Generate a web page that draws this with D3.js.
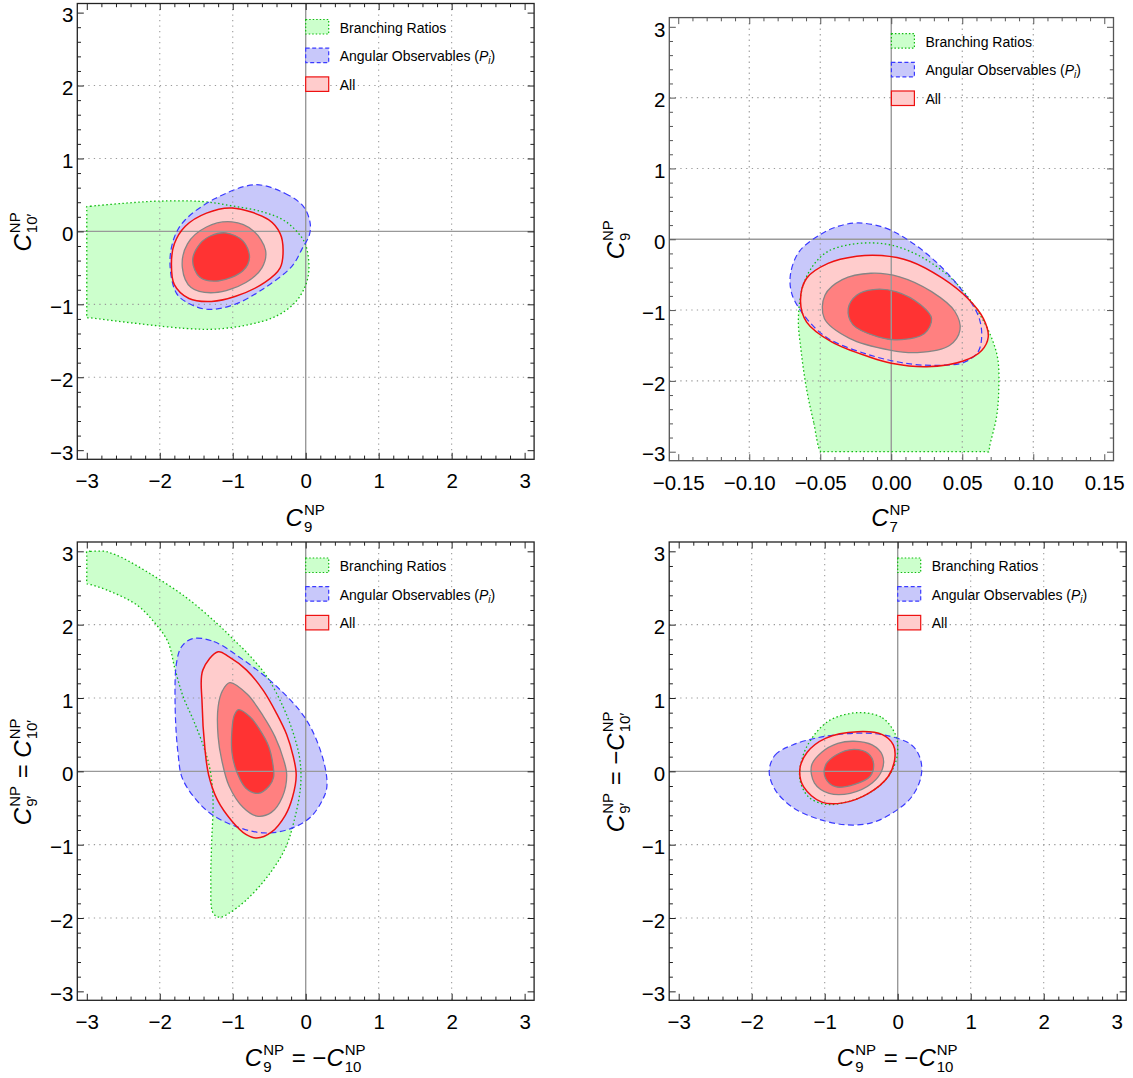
<!DOCTYPE html>
<html><head><meta charset="utf-8">
<script src="https://cdn.jsdelivr.net/npm/d3@7"></script>
<style>
body{margin:0;background:#fff}
svg{display:block}
text{font-family:"Liberation Sans",Arial,Helvetica,sans-serif;fill:#000}
</style></head>
<body><svg id="chart" width="1133" height="1078"></svg>
<script>
// ---------------- data ----------------
const legendLabels = ["Branching Ratios", "Angular Observables", "All"];
const ticksC = [-3, -2, -1, 0, 1, 2, 3];
const ticksC7 = [-0.15, -0.10, -0.05, 0, 0.05, 0.10, 0.15];
const gridC = [-2, -1, 1, 2];
const gridC7 = [-0.10, -0.05, 0.05, 0.10];

// Panel 1: C9 vs C10'
const p1Branching = [[-3,0.34],[-2.95,0.345],[-2.5,0.385],[-2.02,0.415],[-1.42,0.41],[-1.01,0.35],[-0.6,0.27],[-0.28,0.14],[-0.05,-0.09],[0.01,-0.22],[0.04,-0.39],[0.04,-0.57],[-0.01,-0.76],[-0.15,-0.98],[-0.42,-1.17],[-0.79,-1.28],[-1.24,-1.34],[-1.65,-1.33],[-2.25,-1.27],[-2.95,-1.185],[-3,-1.18],[-3,-1.13],[-3,-0.6],[-3,0.0],[-3,0.29]];
const p1Angular = [[-0.69,0.64],[-0.28,0.52],[-0.03,0.34],[0.06,0.12],[0.05,-0.05],[-0.05,-0.24],[-0.19,-0.48],[-0.6,-0.8],[-0.97,-1.0],[-1.33,-1.07],[-1.58,-1.0],[-1.77,-0.85],[-1.86,-0.44],[-1.8,-0.08],[-1.65,0.16],[-1.24,0.45]];
const p1AllOuter = [[-1.01,0.32],[-0.51,0.16],[-0.35,-0.03],[-0.31,-0.25],[-0.35,-0.5],[-0.56,-0.7],[-0.96,-0.89],[-1.29,-0.96],[-1.6,-0.92],[-1.8,-0.73],[-1.84,-0.44],[-1.8,-0.17],[-1.65,0.07],[-1.36,0.25]];
const p1AllMid = [[-1.01,0.13],[-0.72,0.01],[-0.55,-0.26],[-0.6,-0.5],[-0.82,-0.7],[-1.25,-0.84],[-1.57,-0.77],[-1.69,-0.5],[-1.62,-0.17],[-1.36,0.06]];
const p1AllInner = [[-1.1,-0.02],[-0.86,-0.13],[-0.77,-0.36],[-0.86,-0.54],[-1.2,-0.68],[-1.45,-0.63],[-1.55,-0.4],[-1.45,-0.17],[-1.3,-0.06]];

// Panel 2: C7 vs C9
const p2Branching = [[-0.0496,-3.0],[-0.0546,-2.59],[-0.0596,-2.12],[-0.0634,-1.59],[-0.0654,-1.12],[-0.062,-0.645],[-0.0546,-0.36],[-0.0445,-0.17],[-0.0294,-0.076],[-0.0131,-0.052],[0.0008,-0.085],[0.0159,-0.195],[0.0284,-0.337],[0.041,-0.527],[0.051,-0.74],[0.0611,-1.02],[0.07,-1.36],[0.075,-1.69],[0.0757,-2.12],[0.0742,-2.5],[0.0692,-2.93],[0.0687,-3.0],[0.066,-3.0],[0.04,-3.0],[0.01,-3.0],[-0.02,-3.0],[-0.047,-3.0]];
const p2Angular = [[-0.0232,0.23],[-0.0043,0.16],[0.0133,-0.03],[0.031,-0.31],[0.0486,-0.69],[0.0611,-1.07],[0.0637,-1.36],[0.0611,-1.59],[0.0511,-1.74],[0.0335,-1.78],[0.0133,-1.76],[-0.0143,-1.64],[-0.0445,-1.4],[-0.0596,-1.12],[-0.0697,-0.79],[-0.071,-0.5],[-0.0647,-0.17],[-0.0496,0.07],[-0.037,0.185]];
const p2AllOuter = [[-0.0068,-0.23],[0.0133,-0.31],[0.036,-0.55],[0.0536,-0.83],[0.0649,-1.12],[0.0683,-1.38],[0.0637,-1.57],[0.0507,-1.72],[0.0249,-1.8],[0.0,-1.75],[-0.0143,-1.67],[-0.042,-1.45],[-0.0596,-1.17],[-0.0639,-0.88],[-0.0596,-0.55],[-0.0445,-0.34],[-0.0244,-0.24]];
const p2AllMid = [[-0.0143,-0.48],[0.0058,-0.53],[0.0284,-0.74],[0.0448,-1.02],[0.0484,-1.28],[0.041,-1.5],[0.0184,-1.6],[-0.001,-1.565],[-0.0294,-1.4],[-0.0471,-1.12],[-0.0467,-0.79],[-0.0345,-0.57]];
const p2AllInner = [[-0.0127,-0.71],[0.0033,-0.74],[0.0209,-0.93],[0.0284,-1.12],[0.0234,-1.33],[0.0038,-1.42],[-0.0093,-1.38],[-0.0269,-1.21],[-0.0303,-0.98],[-0.0244,-0.79]];

// Panel 3: C9 = -C10 vs C9' = C10'
const p3Branching = [[-3,3.0],[-2.95,3.0],[-2.75,3.0],[-2.68,2.98],[-2.53,2.92],[-2.14,2.7],[-1.65,2.38],[-1.22,2.02],[-0.96,1.77],[-0.76,1.57],[-0.53,1.29],[-0.31,0.88],[-0.17,0.52],[-0.08,0.16],[-0.07,-0.2],[-0.16,-0.68],[-0.28,-1.05],[-0.52,-1.43],[-0.82,-1.76],[-1.06,-1.94],[-1.18,-1.99],[-1.27,-1.93],[-1.3,-1.5],[-1.29,-1.0],[-1.27,-0.39],[-1.31,0.02],[-1.4,0.34],[-1.54,0.7],[-1.68,1.02],[-1.79,1.39],[-1.89,1.77],[-2.09,2.05],[-2.33,2.28],[-2.72,2.47],[-2.96,2.55],[-3,2.56],[-3,2.62],[-3,2.8],[-3,2.95]];
const p3Angular = [[-1.55,1.81],[-1.26,1.77],[-0.87,1.53],[-0.4,1.16],[0.01,0.7],[0.24,0.16],[0.29,-0.21],[0.23,-0.39],[0.06,-0.63],[-0.23,-0.79],[-0.57,-0.84],[-0.96,-0.75],[-1.35,-0.54],[-1.68,-0.12],[-1.75,0.25],[-1.79,0.93],[-1.77,1.48],[-1.7,1.7]];
const p3AllOuter = [[-1.2,1.63],[-1.05,1.56],[-0.81,1.38],[-0.58,1.1],[-0.4,0.79],[-0.26,0.5],[-0.17,0.2],[-0.13,-0.05],[-0.18,-0.35],[-0.28,-0.6],[-0.47,-0.83],[-0.67,-0.91],[-0.82,-0.86],[-1.01,-0.68],[-1.21,-0.39],[-1.33,-0.05],[-1.38,0.3],[-1.42,0.93],[-1.41,1.38]];
const p3AllMid = [[-1.04,1.21],[-0.8,1.05],[-0.58,0.75],[-0.42,0.47],[-0.3,0.15],[-0.26,-0.05],[-0.32,-0.35],[-0.47,-0.56],[-0.67,-0.61],[-0.86,-0.49],[-1.05,-0.2],[-1.15,0.15],[-1.2,0.47],[-1.2,0.88],[-1.14,1.1]];
const p3AllInner = [[-0.92,0.84],[-0.76,0.74],[-0.63,0.57],[-0.51,0.35],[-0.45,0.1],[-0.44,-0.08],[-0.5,-0.2],[-0.65,-0.3],[-0.82,-0.23],[-0.94,-0.02],[-1.01,0.25],[-1.01,0.57],[-0.98,0.76]];

// Panel 4: C9 = -C10 vs C9' = -C10'
const p4Branching = [[-0.55,0.8],[-0.21,0.73],[-0.03,0.5],[0,0.31],[-0.03,0.12],[-0.16,-0.11],[-0.4,-0.3],[-0.7,-0.42],[-0.99,-0.45],[-1.22,-0.35],[-1.34,-0.11],[-1.31,0.17],[-1.19,0.43],[-0.94,0.69]];
const p4Angular = [[-1.76,0],[-1.68,0.22],[-1.44,0.36],[-1.04,0.47],[-0.55,0.52],[-0.16,0.49],[0.19,0.36],[0.31,0.17],[0.32,-0.07],[0.19,-0.35],[-0.06,-0.56],[-0.35,-0.7],[-0.7,-0.73],[-1.09,-0.65],[-1.44,-0.49],[-1.68,-0.25]];
const p4AllOuter = [[-0.55,0.54],[-0.21,0.5],[-0.06,0.36],[-0.04,0.17],[-0.13,-0.07],[-0.4,-0.3],[-0.75,-0.43],[-1.04,-0.42],[-1.29,-0.21],[-1.34,0.03],[-1.24,0.26],[-0.99,0.45]];
const p4AllMid = [[-0.6,0.41],[-0.35,0.36],[-0.21,0.22],[-0.21,0.03],[-0.35,-0.16],[-0.65,-0.3],[-0.94,-0.3],[-1.14,-0.16],[-1.18,0.08],[-1.04,0.26],[-0.82,0.38]];
const p4AllInner = [[-0.6,0.3],[-0.4,0.24],[-0.33,0.1],[-0.38,-0.07],[-0.6,-0.18],[-0.85,-0.21],[-0.99,-0.09],[-0.99,0.08],[-0.85,0.22]];

// ---------------- styles ----------------
const COL = {
  brFill:"#ccffcc", brStroke:"#11bb11",
  anFill:"#c8c8fa", anStroke:"#3a3aff",
  outFill:"#ffcccc", outStroke:"#ee1111",
  midFill:"#ff8080", inFill:"#ff3333", levStroke:"#858585",
  grid:"#9a9a9a", axis:"#999999"
};

const svg = d3.select("#chart");

const panels = [
  {id:1, box:{L:77.3,R:534.1,T:3.5,B:459.3}, xDom:[-3.13,3.13], yDom:[-3.125,3.125], xTicks:ticksC, xMinorStep:0.2, xGrid:gridC, xFmt:d3.format("d"),
   br:p1Branching, an:p1Angular, out:p1AllOuter, mid:p1AllMid, inn:p1AllInner, frame:"#222",
   xLab:[{t:"C",it:1},{sub:"9",sup:"NP"}], yLab:[{t:"C",it:1},{sub:"10′",sup:"NP"}], xLabY:526, yLabX:31},
  {id:2, box:{L:669.3,R:1113.5,T:17.6,B:460.7}, xDom:[-0.1563,0.1565], yDom:[-3.127,3.13], xTicks:ticksC7, xMinorStep:0.01, xGrid:gridC7, xFmt:d3.format(".2f"),
   br:p2Branching, an:p2Angular, out:p2AllOuter, mid:p2AllMid, inn:p2AllInner, frame:"#555",
   xLab:[{t:"C",it:1},{sub:"7",sup:"NP"}], yLab:[{t:"C",it:1},{sub:"9",sup:"NP"}], xLabY:526, yLabX:624},
  {id:3, box:{L:77.3,R:534.1,T:542,B:1000.3}, xDom:[-3.13,3.13], yDom:[-3.122,3.127], xTicks:ticksC, xMinorStep:0.2, xGrid:gridC, xFmt:d3.format("d"),
   br:p3Branching, an:p3Angular, out:p3AllOuter, mid:p3AllMid, inn:p3AllInner, frame:"#222",
   xLab:[{t:"C",it:1},{sub:"9",sup:"NP"},{t:" = −"},{t:"C",it:1},{sub:"10",sup:"NP"}],
   yLab:[{t:"C",it:1},{sub:"9′",sup:"NP"},{t:" = "},{t:"C",it:1},{sub:"10′",sup:"NP"}], xLabY:1066, yLabX:31},
  {id:4, box:{L:669.2,R:1126.2,T:542,B:1000.3}, xDom:[-3.13,3.13], yDom:[-3.122,3.127], xTicks:ticksC, xMinorStep:0.2, xGrid:gridC, xFmt:d3.format("d"),
   br:p4Branching, an:p4Angular, out:p4AllOuter, mid:p4AllMid, inn:p4AllInner, frame:"#222",
   xLab:[{t:"C",it:1},{sub:"9",sup:"NP"},{t:" = −"},{t:"C",it:1},{sub:"10",sup:"NP"}],
   yLab:[{t:"C",it:1},{sub:"9′",sup:"NP"},{t:" = −"},{t:"C",it:1},{sub:"10′",sup:"NP"}], xLabY:1066, yLabX:624}
];

function mathLabel(parent, parts){
  const g = parent.append("g");
  const big = 24, small = 15;
  let xpos = 0;
  parts.forEach(p=>{
    if(p.t !== undefined){
      const t = g.append("text").attr("x",xpos).attr("y",0)
        .style("font-size",big+"px").style("font-style",p.it?"italic":"normal")
        .attr("xml:space","preserve").text(p.t);
      xpos += t.node().getComputedTextLength();
    } else {
      let w = 0;
      if(p.sup){ const t=g.append("text").attr("x",xpos+1).attr("y",-11).style("font-size",small+"px").text(p.sup); w=Math.max(w,t.node().getComputedTextLength()); }
      if(p.sub){ const t=g.append("text").attr("x",xpos+1).attr("y",6).style("font-size",small+"px").text(p.sub); w=Math.max(w,t.node().getComputedTextLength()); }
      xpos += w + 2;
    }
  });
  g.selectAll("text").attr("x", function(){ return +this.getAttribute("x") - xpos/2; });
  return g;
}

function range(a,b,step){ const out=[]; const n=Math.round((b-a)/step); for(let i=0;i<=n;i++) out.push(+(a+i*step).toFixed(6)); return out; }

panels.forEach(cfg=>{
  const {L,R,T,B} = cfg.box;
  const x = d3.scaleLinear().domain(cfg.xDom).range([L,R]);
  const y = d3.scaleLinear().domain(cfg.yDom).range([B,T]);
  const g = svg.append("g");
  const clipId = "clip"+cfg.id;
  g.append("clipPath").attr("id",clipId).append("rect").attr("x",L).attr("y",T).attr("width",R-L).attr("height",B-T);
  const plot = g.append("g").attr("clip-path",`url(#${clipId})`);
  const line = d3.line().x(d=>x(d[0])).y(d=>y(d[1])).curve(d3.curveCatmullRomClosed.alpha(0.5));

  // fills
  plot.append("path").attr("d",line(cfg.br)).attr("fill",COL.brFill);
  plot.append("path").attr("d",line(cfg.an)).attr("fill",COL.anFill);
  plot.append("path").attr("d",line(cfg.out)).attr("fill",COL.outFill);

  // grid
  const yGrid = gridC;
  plot.selectAll(".gx").data(cfg.xGrid).enter().append("line")
    .attr("x1",d=>x(d)).attr("x2",d=>x(d)).attr("y1",T).attr("y2",B)
    .attr("stroke",COL.grid).attr("stroke-width",1.1).attr("stroke-dasharray","1.3,4.2");
  plot.selectAll(".gy").data(yGrid).enter().append("line")
    .attr("y1",d=>y(d)).attr("y2",d=>y(d)).attr("x1",L).attr("x2",R)
    .attr("stroke",COL.grid).attr("stroke-width",1.1).attr("stroke-dasharray","1.3,4.2");

  plot.append("path").attr("d",line(cfg.mid)).attr("fill",COL.midFill);
  plot.append("path").attr("d",line(cfg.inn)).attr("fill",COL.inFill);

  // axes lines
  plot.append("line").attr("x1",x(0)).attr("x2",x(0)).attr("y1",T).attr("y2",B).attr("stroke",COL.axis).attr("stroke-width",1.4);
  plot.append("line").attr("y1",y(0)).attr("y2",y(0)).attr("x1",L).attr("x2",R).attr("stroke",COL.axis).attr("stroke-width",1.4);

  // outlines
  plot.append("path").attr("d",line(cfg.br)).attr("fill","none").attr("stroke",COL.brStroke).attr("stroke-width",1.3).attr("stroke-dasharray","1.5,2.5");
  plot.append("path").attr("d",line(cfg.an)).attr("fill","none").attr("stroke",COL.anStroke).attr("stroke-width",1.2).attr("stroke-dasharray","6,3.5");
  plot.append("path").attr("d",line(cfg.out)).attr("fill","none").attr("stroke",COL.outStroke).attr("stroke-width",1.5);
  plot.append("path").attr("d",line(cfg.mid)).attr("fill","none").attr("stroke",COL.levStroke).attr("stroke-width",1.3);
  plot.append("path").attr("d",line(cfg.inn)).attr("fill","none").attr("stroke",COL.levStroke).attr("stroke-width",1.3);

  // frame ticks
  const xMinor = range(cfg.xTicks[0], cfg.xTicks[cfg.xTicks.length-1], cfg.xMinorStep).filter(v=>!cfg.xTicks.some(t=>Math.abs(t-v)<1e-9));
  const yMinor = range(-3,3,0.2).filter(v=>!ticksC.some(t=>Math.abs(t-v)<1e-9));
  const tickStyle = sel=>{ sel.select(".domain").remove(); sel.selectAll("line").attr("stroke",cfg.frame).attr("stroke-width",1); sel.selectAll("text").remove(); };
  const MAJ=6.5, MIN=3.7;
  g.append("g").attr("transform",`translate(0,${B})`).call(d3.axisBottom(x).tickValues(cfg.xTicks).tickSize(-MAJ)).call(tickStyle);
  g.append("g").attr("transform",`translate(0,${B})`).call(d3.axisBottom(x).tickValues(xMinor).tickSize(-MIN)).call(tickStyle);
  g.append("g").attr("transform",`translate(0,${T})`).call(d3.axisTop(x).tickValues(cfg.xTicks).tickSize(-MAJ)).call(tickStyle);
  g.append("g").attr("transform",`translate(0,${T})`).call(d3.axisTop(x).tickValues(xMinor).tickSize(-MIN)).call(tickStyle);
  g.append("g").attr("transform",`translate(${L},0)`).call(d3.axisLeft(y).tickValues(ticksC).tickSize(-MAJ)).call(tickStyle);
  g.append("g").attr("transform",`translate(${L},0)`).call(d3.axisLeft(y).tickValues(yMinor).tickSize(-MIN)).call(tickStyle);
  g.append("g").attr("transform",`translate(${R},0)`).call(d3.axisRight(y).tickValues(ticksC).tickSize(-MAJ)).call(tickStyle);
  g.append("g").attr("transform",`translate(${R},0)`).call(d3.axisRight(y).tickValues(yMinor).tickSize(-MIN)).call(tickStyle);

  // tick labels
  const xl = g.append("g").attr("transform",`translate(0,${B})`).call(d3.axisBottom(x).tickValues(cfg.xTicks).tickSize(0).tickPadding(14.5).tickFormat(cfg.xFmt));
  xl.select(".domain").remove();
  xl.selectAll("text").attr("font-family",null).attr("font-size",null).style("font-size","20.5px").style("fill","#000");
  const yl = g.append("g").attr("transform",`translate(${L},0)`).call(d3.axisLeft(y).tickValues(ticksC).tickSize(0).tickPadding(4).tickFormat(d3.format("d")));
  yl.select(".domain").remove();
  yl.selectAll("text").attr("font-family",null).attr("font-size",null).attr("dy","0.45em").style("font-size","20.5px").style("fill","#000");

  // frame
  g.append("rect").attr("x",L).attr("y",T).attr("width",R-L).attr("height",B-T).attr("fill","none").attr("stroke",cfg.frame).attr("stroke-width",1.3);

  // legend
  const lx = (L+R)/2, ly0 = T+16, dy = 28.7;
  const leg = g.append("g");
  const swatches = [
    {fill:COL.brFill, stroke:COL.brStroke, dash:"1.5,2"},
    {fill:COL.anFill, stroke:COL.anStroke, dash:"4,2.5"},
    {fill:COL.outFill, stroke:COL.outStroke, dash:null}
  ];
  legendLabels.forEach((lab,i)=>{
    const yy = ly0 + i*dy;
    leg.append("rect").attr("x",lx).attr("y",yy).attr("width",23).attr("height",14.5)
      .attr("fill",swatches[i].fill).attr("stroke",swatches[i].stroke).attr("stroke-width",1.2)
      .attr("stroke-dasharray",swatches[i].dash);
    const t = leg.append("text").attr("x",lx+34).attr("y",yy+13).style("font-size","14px");
    t.append("tspan").text(lab);
    if(i===1){
      t.append("tspan").text(" (");
      t.append("tspan").style("font-style","italic").text("P");
      t.append("tspan").style("font-style","italic").style("font-size","10px").attr("dy",3).text("i");
      t.append("tspan").attr("dy",-3).text(")");
    }
  });

  // axis labels
  const xg = mathLabel(g, cfg.xLab);
  xg.attr("transform",`translate(${x(0)},${cfg.xLabY})`);
  const yg = mathLabel(g, cfg.yLab);
  yg.attr("transform",`translate(${cfg.yLabX},${y(0)}) rotate(-90)`);
});
</script>
</body></html>
